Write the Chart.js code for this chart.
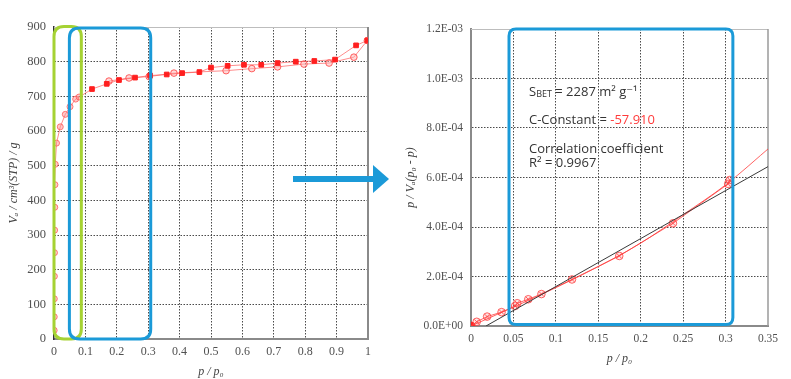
<!DOCTYPE html>
<html><head><meta charset="utf-8">
<script src="https://cdn.jsdelivr.net/npm/chart.js@4/dist/chart.umd.min.js"></script>
<style>
html,body{margin:0;padding:0;background:#fff;width:791px;height:379px;overflow:hidden}
canvas{position:absolute;top:0}
#c1{left:0}
#c2{left:395px}
</style></head><body>
<canvas id="c1" width="395" height="379"></canvas>
<canvas id="c2" width="396" height="379"></canvas>
<script>
// ---------- Isotherm (left) ----------
const adsP = [0.0005,0.0008,0.001,0.0012,0.0015,0.002,0.0025,0.003,0.004,0.008,0.02,0.036,0.051,0.069,0.08,0.121,0.168,0.207,0.258,0.306,0.359,0.408,0.463,0.5,0.553,0.605,0.66,0.712,0.77,0.829,0.895,0.962,0.998];
const adsV = [25,64,116,181,249,314,380,445,504,565,612,648,670,692,698,721,736,747,754,760,763,767,770,783,788,791,791,796,800,802,806,847,861];
const desP = [0.998,0.955,0.876,0.796,0.712,0.63,0.548,0.382,0.303,0.239,0.175];
const desV = [861,813,796,793,785,780,774,767,757,753,744];
const isoXTicks = [0,0.1,0.2,0.3,0.4,0.5,0.6,0.7,0.8,0.9,1];
const isoXTickLabels = ['0','0.1','0.2','0.3','0.4','0.5','0.6','0.7','0.8','0.9','1'];
const isoYTicks = [0,100,200,300,400,500,600,700,800,900];

// ---------- BET plot (right) ----------
const betP = [0,0.0067,0.019,0.036,0.052,0.0545,0.0675,0.083,0.119,0.1747,0.238,0.303,0.305];
const betV = [0,1.7e-5,3.8e-5,5.6e-5,8.1e-5,9.2e-5,1.08e-4,1.29e-4,1.88e-4,2.83e-4,4.15e-4,5.74e-4,5.9e-4];
const trendP = [0,0.05,0.1,0.15,0.2,0.25,0.3,0.355];
const trendV = [0,7.6e-5,1.55e-4,2.4e-4,3.35e-4,4.5e-4,5.7e-4,7.3e-4];
const fitP = [0.0177,0.35];
const fitV = [0,6.44e-4];
const betXTicks = [0,0.05,0.1,0.15,0.2,0.25,0.3,0.35];
const betXTickLabels = ['0','0.05','0.1','0.15','0.2','0.25','0.3','0.35'];
const betYTickLabels = ['0.0E+00','2.0E-04','4.0E-04','6.0E-04','8.0E-04','1.0E-03','1.2E-03'];

const sBET = '2287';
const cConst = '-57.910';
const r2 = '0.9967';

const serif = "'Liberation Serif', 'Times New Roman', serif";
const sans = "'Open Sans','DejaVu Sans',sans-serif";
const BLUE = '#1b9ad8';
const GREEN = '#a5d233';
const pts = (xs, ys) => xs.map((x,i)=>({x, y: ys[i]}));

function roundRect(ctx, x0, y0, x1, y1, r) {
  ctx.beginPath();
  ctx.moveTo(x0 + r, y0);
  ctx.lineTo(x1 - r, y0);
  ctx.quadraticCurveTo(x1, y0, x1, y0 + r);
  ctx.lineTo(x1, y1 - r);
  ctx.quadraticCurveTo(x1, y1, x1 - r, y1);
  ctx.lineTo(x0 + r, y1);
  ctx.quadraticCurveTo(x0, y1, x0, y1 - r);
  ctx.lineTo(x0, y0 + r);
  ctx.quadraticCurveTo(x0, y0, x0 + r, y0);
  ctx.closePath();
}

const frame = {
  id: 'frame',
  beforeDatasetsDraw(chart, args, o) {
    const {ctx, chartArea: a} = chart;
    ctx.save();
    ctx.strokeStyle = o.topColor; ctx.lineWidth = 1;
    ctx.beginPath(); ctx.moveTo(a.left, a.top + 0.5); ctx.lineTo(a.right, a.top + 0.5); ctx.stroke();
    ctx.strokeStyle = o.rightColor; ctx.lineWidth = o.rightWidth;
    ctx.beginPath(); ctx.moveTo(a.right, a.top); ctx.lineTo(a.right, a.bottom); ctx.stroke();
    ctx.restore();
  }
};

const gridColor = (maxV) => (c) => {
  const v = c.tick ? c.tick.value : null;
  if (v === null) return '#555';
  if (Math.abs(v) < 1e-12 || Math.abs(v - maxV) < 1e-9) return 'rgba(0,0,0,0)';
  return '#4a4a4a';
};

// ---------- Left chart ----------
const leftOverlay = {
  id: 'leftOverlay',
  afterDatasetsDraw(chart) {
    const {ctx, scales: {x, y}} = chart;
    ctx.save();
    ctx.lineWidth = 3;
    ctx.strokeStyle = GREEN;
    roundRect(ctx, x.getPixelForValue(0), y.getPixelForValue(900) - 0.5, x.getPixelForValue(0.087), y.getPixelForValue(0), 10);
    ctx.stroke();
    ctx.strokeStyle = BLUE;
    roundRect(ctx, x.getPixelForValue(0.049), y.getPixelForValue(900) + 1, x.getPixelForValue(0.308), y.getPixelForValue(0), 10);
    ctx.stroke();
    // arrow
    ctx.fillStyle = BLUE;
    ctx.fillRect(293, 176, 81, 6);
    ctx.beginPath();
    ctx.moveTo(373, 165); ctx.lineTo(389, 179); ctx.lineTo(373, 193); ctx.closePath();
    ctx.fill();
    ctx.restore();
  }
};

new Chart(document.getElementById('c1'), {
  type: 'scatter',
  data: {
    datasets: [
      {
        label: 'Adsorption',
        data: pts(adsP, adsV),
        showLine: true,
        borderColor: 'rgba(255,80,80,0.65)',
        borderWidth: 1,
        pointStyle: c => (c.raw && c.raw.x < 0.09) ? 'circle' : 'rect',
        pointRadius: c => (c.raw && c.raw.x < 0.09) ? 3 : 3.3,
        pointBackgroundColor: c => (c.raw && c.raw.x < 0.09) ? 'rgba(255,140,140,0.45)' : '#ff1f1f',
        pointBorderColor: c => (c.raw && c.raw.x < 0.09) ? 'rgba(255,90,90,0.8)' : '#ff1f1f',
        pointBorderWidth: 1
      },
      {
        label: 'Desorption',
        data: pts(desP, desV),
        showLine: true,
        borderColor: 'rgba(255,80,80,0.65)',
        borderWidth: 1,
        pointStyle: 'circle',
        pointRadius: 3.3,
        pointBackgroundColor: 'rgba(255,180,180,0.5)',
        pointBorderColor: 'rgba(255,70,70,0.85)',
        pointBorderWidth: 1
      }
    ]
  },
  options: {
    responsive: false, animation: false,
    layout: {padding: {left: 0, top: 27, right: 27, bottom: 0}},
    plugins: {legend: {display: false}, tooltip: {enabled: false},
      frame: {topColor: '#bdbdbd', rightColor: '#8a8a8a', rightWidth: 2}},
    scales: {
      x: {
        type: 'linear', min: 0, max: 1,
        afterBuildTicks: s => { s.ticks = isoXTicks.map(v => ({value: v})); },
        afterFit: s => { s.height = 40; },
        ticks: {color: '#505050', font: {family: serif, size: 12}, padding: 6, maxRotation: 0,
          callback: (v, i) => isoXTickLabels[i]},
        grid: {color: gridColor(1), drawTicks: false, lineWidth: 1},
        border: {display: true, color: '#8a8a8a', width: 2, dash: [1.5, 1.5]},
        title: {display: true, text: 'p / p₀', color: '#444', font: {family: serif, size: 12, style: 'italic'}, padding: {top: 0, bottom: 0}}
      },
      y: {
        type: 'linear', min: 0, max: 900,
        afterBuildTicks: s => { s.ticks = isoYTicks.map(v => ({value: v})); },
        afterFit: s => { s.width = 54; },
        ticks: {color: '#505050', font: {family: serif, size: 12.5}, padding: 8,
          callback: (v) => String(v)},
        grid: {color: gridColor(900), drawTicks: false, lineWidth: 1},
        border: {display: true, color: '#333', width: 1.5, dash: [1.5, 1.5]},
        title: {display: true, text: 'Vₐ / cm³(STP) / g', color: '#444', font: {family: serif, size: 12, style: 'italic'}, padding: {top: 7, bottom: 0}}
      }
    }
  },
  plugins: [frame, leftOverlay]
});

// ---------- Right chart ----------
const rightOverlay = {
  id: 'rightOverlay',
  afterDatasetsDraw(chart) {
    const {ctx, scales: {x, y}} = chart;
    ctx.save();
    ctx.lineWidth = 3;
    ctx.strokeStyle = BLUE;
    roundRect(ctx, x.getPixelForValue(0.0448), y.getPixelForValue(1.2e-3), x.getPixelForValue(0.3086), y.getPixelForValue(0) - 1.5, 7);
    ctx.stroke();
    const tx = 134;
    ctx.fillStyle = '#333';
    ctx.textBaseline = 'alphabetic';
    ctx.font = '13px ' + sans;
    ctx.fillText('S', tx, 95.5);
    let w = ctx.measureText('S').width;
    ctx.font = '9px ' + sans;
    ctx.fillText('BET', tx + w, 97);
    w += ctx.measureText('BET').width;
    ctx.font = '13px ' + sans;
    ctx.fillText(' = ' + sBET + ' m² g⁻¹', tx + w, 95.5);
    const cl = 'C-Constant = ';
    ctx.fillText(cl, tx, 123.5);
    const cw = ctx.measureText(cl).width;
    ctx.fillStyle = '#ff3b3b';
    ctx.fillText(cConst, tx + cw, 123.5);
    ctx.fillStyle = '#333';
    ctx.fillText('Correlation coefficient', tx, 152.5);
    ctx.fillText('R² = ' + r2, tx, 166.5);
    ctx.restore();
  }
};

new Chart(document.getElementById('c2'), {
  type: 'scatter',
  data: {
    datasets: [
      {
        label: 'Linear fit',
        data: pts(fitP, fitV),
        showLine: true,
        borderColor: '#3a3a3a',
        borderWidth: 1,
        pointRadius: 0
      },
      {
        label: 'Trend',
        data: pts(trendP, trendV),
        showLine: true,
        borderColor: 'rgba(255,60,60,0.8)',
        borderWidth: 1,
        cubicInterpolationMode: 'monotone',
        pointRadius: 0
      },
      {
        label: 'BET data',
        data: pts(betP, betV),
        showLine: true,
        borderColor: 'rgba(255,60,60,0.8)',
        borderWidth: 1,
        pointStyle: 'crossRot',
        pointRadius: c => c.dataIndex === 0 ? 0 : 3.5,
        pointBorderColor: 'rgba(255,70,70,0.85)',
        pointBorderWidth: 1
      },
      {
        label: 'BET data circles',
        data: pts(betP, betV),
        showLine: false,
        pointStyle: 'circle',
        pointRadius: c => c.dataIndex === 0 ? 4 : 3.8,
        pointBackgroundColor: c => c.dataIndex === 0 ? '#ff2020' : 'rgba(255,160,160,0.25)',
        pointBorderColor: c => c.dataIndex === 0 ? '#ff2020' : 'rgba(255,70,70,0.85)',
        pointBorderWidth: 1
      }
    ]
  },
  options: {
    responsive: false, animation: false,
    layout: {padding: {left: 0, top: 29, right: 23, bottom: 0}},
    plugins: {legend: {display: false}, tooltip: {enabled: false},
      frame: {topColor: '#bdbdbd', rightColor: '#9a9a9a', rightWidth: 1.5}},
    scales: {
      x: {
        type: 'linear', min: 0, max: 0.35,
        afterBuildTicks: s => { s.ticks = betXTicks.map(v => ({value: v})); },
        afterFit: s => { s.height = 53; },
        ticks: {color: '#505050', font: {family: serif, size: 11.5}, padding: 6, maxRotation: 0,
          callback: (v, i) => betXTickLabels[i]},
        grid: {color: gridColor(0.35), drawTicks: false, lineWidth: 1},
        border: {display: true, color: '#8a8a8a', width: 2, dash: [1.5, 1.5]},
        title: {display: true, text: 'p / p₀', color: '#444', font: {family: serif, size: 12, style: 'italic'}, padding: {top: 0, bottom: 13}}
      },
      y: {
        type: 'linear', min: 0, max: 1.2e-3,
        afterBuildTicks: s => { s.ticks = betYTickLabels.map((t, i) => ({value: i * 2e-4})); },
        afterFit: s => { s.width = 76; },
        ticks: {color: '#505050', font: {family: serif, size: 11.5}, padding: 8,
          callback: (v, i) => betYTickLabels[i]},
        grid: {color: gridColor(1.2e-3), drawTicks: false, lineWidth: 1},
        border: {display: true, color: '#8a8a8a', width: 2, dash: [1.5, 1.5]},
        title: {display: true, text: 'p / Vₐ(p₀ - p)', color: '#444', font: {family: serif, size: 12, style: 'italic'}, padding: {top: 9, bottom: 0}}
      }
    }
  },
  plugins: [frame, rightOverlay]
});
</script>
</body></html>
